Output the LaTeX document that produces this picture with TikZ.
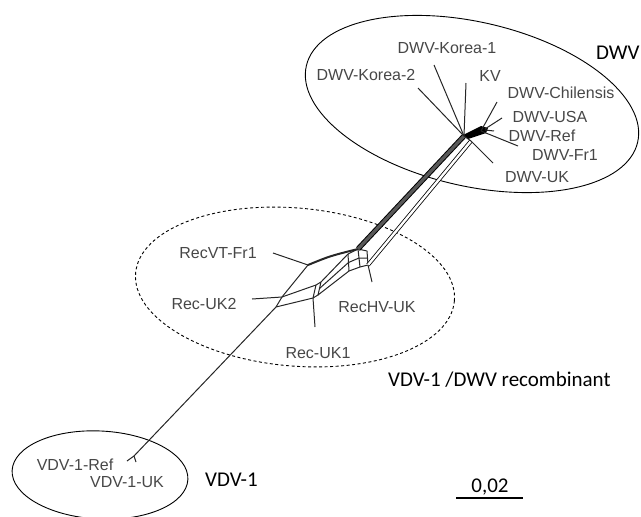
\documentclass[tikz,border=0pt]{standalone}
\usepackage{fontspec}
\setmainfont{Liberation Sans}
\newfontfamily\calfont{Carlito}
\usetikzlibrary{calc}

\begin{document}
\begin{tikzpicture}[x=1pt, y=-1pt,
    taxon/.style={font=\fontsize{16}{18}\selectfont, text=black!72, inner sep=0pt},
    group/.style={font=\calfont\fontsize{21}{24}\selectfont, inner sep=0pt, anchor=west},
    split/.style={draw=black!85, line width=1pt, line join=round}]

    \useasboundingbox (0,0) rectangle (641,517);

    % clusters
    \draw [line width=0.9pt, rotate around={-13:(472,104)}]
      (472,104) ellipse [x radius=170pt, y radius=82pt];
    \draw [line width=0.9pt, dashed, dash pattern=on 3pt off 2.5pt,
      rotate around={-5:(295,287)}]
      (295,287) ellipse [x radius=160pt, y radius=79pt];
    \draw [line width=0.9pt, rotate around={-3:(100,475)}]
      (100,475) ellipse [x radius=88pt, y radius=44pt];

    % network vertices
    \coordinate (v1) at (134,456);
    \coordinate (r1) at (276,307);
    \coordinate (r2) at (282,297);
    \coordinate (c) at (308,265);
    \coordinate (d1) at (316,285);
    \coordinate (d2) at (321,282);
    \coordinate (e1) at (313,298);
    \coordinate (e2) at (318,295);
    \coordinate (h1) at (348,254);
    \coordinate (h2) at (349,271);
    \coordinate (h3) at (358,249);
    \coordinate (h4) at (360,267);
    \coordinate (h5) at (367,251);
    \coordinate (h6) at (368,265);
    \coordinate (g1) at (464,136);
    \coordinate (g2) at (471,141);
    \coordinate (g3) at (485,130);
    \coordinate (g4) at (481,131);
    \coordinate (g5) at (485,129);

    % stem and recombinant box
    \draw [split] (v1) -- (r1) -- (r2) -- (c);
    \draw [split] (r2) -- (d1) -- (d2) -- (e2) -- (e1) -- (d1);
    \draw [split] (r1) -- (e1);
    \draw [split] (d2) -- (h1);
    \draw [split] ($(d2)!0.5!(e2)$) -- ($(h1)!0.5!(h2)$);
    \draw [split] (e2) -- (h2);
    \draw [split] (h1) -- (h2) (h3) -- (h4) (h5) -- (h6);
    \draw [split] (h1) -- (h3) -- (h5) (h2) -- (h4) -- (h6);
    \draw [split] ($(h1)!0.5!(h2)$) -- ($(h3)!0.5!(h4)$) -- ($(h5)!0.5!(h6)$);
    \draw [split, line width=2pt] (c) .. controls (330,256) .. (h3);

    % long splits towards DWV
    \draw [line width=1pt, double=black!65, double distance=3.2pt] (h3) -- (g1);
    \draw [line width=0.8pt, double=white, double distance=2.4pt] (h6) -- (g2);
    \fill [black] (463,135) -- (481,126) -- (488,128) -- (486,133) -- (468,139) -- cycle;
    \draw [split] (g1) -- (g2);

    % leaves
    \foreach \from/\x/\y [count=\i] in {v1/127/461, v1/136/462,
        c/273/253, r2/252/299, e1/315/327, h6/372/282,
        g1/418/88, g1/434/65, g1/466/83, g4/497/102, g5/502/118,
        g3/494/131, g4/518/146, g2/493/163} {
      \coordinate (leaf\i) at (\x,\y);
      \draw [split] (\from) -- (leaf\i);
    }

    % taxa
    \foreach \n/\x/\y/\t in {kor1/447/48/DWV-Korea-1, kor2/366/75/DWV-Korea-2,
        kv/490/76/KV, chil/561/93/DWV-Chilensis, usa/550/117/DWV-USA,
        dref/542/136/DWV-Ref, dfr/565/155/DWV-Fr1, duk/537/177/DWV-UK,
        rvt/218/253/RecVT-Fr1, ruk2/204/304/Rec-UK2, rhv/377/307/RecHV-UK,
        ruk1/318/353/Rec-UK1, vref/75/465/VDV-1-Ref, vuk/127/482/VDV-1-UK} {
      \node [taxon] (\n) at (\x,\y) {\t};
    }

    % groups and scale
    \node [group] (dwv) at (596,53) {DWV};
    \node [group] (rec) at (388,380) {VDV-1 /DWV recombinant};
    \node [group] (vdv) at (205,480) {VDV-1};
    \node [group, anchor=center] (scale) at (490,487) {0,02};
    \coordinate (bar1) at (456,498);
    \coordinate (bar2) at (523,498);
    \draw [line width=1.4pt] (bar1) -- (bar2);

  \end{tikzpicture}
\end{document}
